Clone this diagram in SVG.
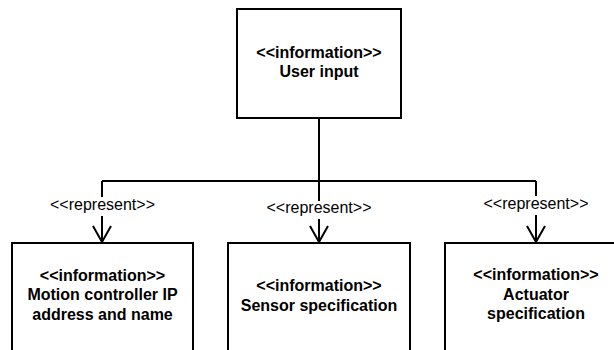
<svg xmlns="http://www.w3.org/2000/svg" width="614" height="350" viewBox="0 0 614 350">
  <style>
    .box { fill: #ffffff; stroke: #000000; stroke-width: 2; }
    .name { font-family: "Liberation Sans", Arial, sans-serif; font-size: 16px; font-weight: bold; fill: #000000; text-anchor: middle; }
    .wire { fill: none; stroke: #000000; stroke-width: 2; }
    .lbl { font-family: "Liberation Sans", Arial, sans-serif; font-size: 16px; fill: #000000; text-anchor: middle; }
    .lblbg { fill: #ffffff; }
  </style>
  <defs>
    <marker id="open" viewBox="-18 -11 20 22" markerWidth="20" markerHeight="22" refX="0" refY="0" orient="auto" markerUnits="userSpaceOnUse" overflow="visible">
      <path d="M -16 -9 L 0 0 L -16 9" fill="none" stroke="#000000" stroke-width="2"/>
    </marker>
  </defs>
  <rect width="614" height="350" fill="#ffffff"/>

  <!-- connectors: trunk, bus and three dependency branches -->
  <g id="connectors">
    <path class="wire" d="M 319 118 L 319 181"/>
    <path class="wire" d="M 102 181 L 536 181"/>
    <path class="wire" d="M 102 181 L 102 242" marker-end="url(#open)"/>
    <path class="wire" d="M 319 181 L 319 242" marker-end="url(#open)"/>
    <path class="wire" d="M 536 181 L 536 242" marker-end="url(#open)"/>
    <rect class="lblbg" x="49" y="197" width="107" height="19"/>
    <text class="lbl" x="102.5" y="210">&lt;&lt;represent&gt;&gt;</text>
    <rect class="lblbg" x="266" y="201" width="107" height="18"/>
    <text class="lbl" x="319" y="213">&lt;&lt;represent&gt;&gt;</text>
    <rect class="lblbg" x="482" y="196" width="107" height="19"/>
    <text class="lbl" x="536" y="209">&lt;&lt;represent&gt;&gt;</text>
  </g>

  <g id="user-input">
    <rect class="box" x="237" y="9" width="164" height="109"/>
    <text class="name" x="319" y="58">&lt;&lt;information&gt;&gt;</text>
    <text class="name" x="319" y="77">User input</text>
  </g>

  <g id="motion-controller">
    <rect class="box" x="12" y="243" width="181" height="110"/>
    <text class="name" x="102.5" y="281">&lt;&lt;information&gt;&gt;</text>
    <text class="name" x="102.5" y="300">Motion controller IP</text>
    <text class="name" x="102.5" y="320">address and name</text>
  </g>

  <g id="sensor-spec">
    <rect class="box" x="228" y="243" width="182" height="110"/>
    <text class="name" x="319" y="291">&lt;&lt;information&gt;&gt;</text>
    <text class="name" x="319" y="311">Sensor specification</text>
  </g>

  <g id="actuator-spec">
    <rect class="box" x="445" y="243" width="182" height="110"/>
    <text class="name" x="536" y="280">&lt;&lt;information&gt;&gt;</text>
    <text class="name" x="536" y="300">Actuator</text>
    <text class="name" x="536" y="319">specification</text>
  </g>
</svg>
